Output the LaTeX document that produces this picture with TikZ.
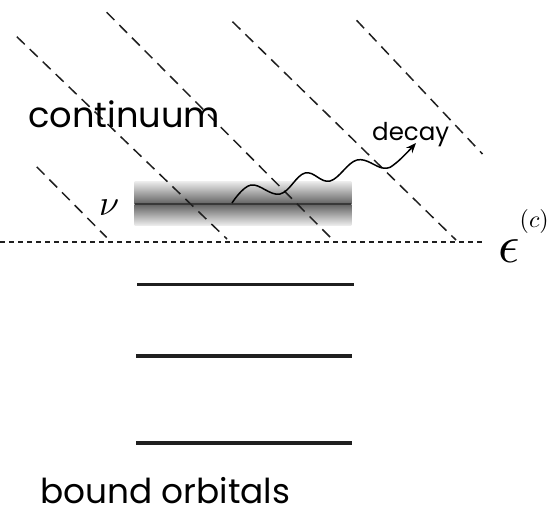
\documentclass[tikz,border=0pt]{standalone}
\usepackage{fontspec}
\setmainfont{Poppins}
\usetikzlibrary{arrows.meta}
\tikzset{
  contline/.style={dash pattern=on 11pt off 7pt, line width=1.5pt, black!88},
  threshold/.style={dash pattern=on 5pt off 4pt, line width=1.4pt, black!88},
  level/.style={line width=3.6pt, black!88},
  lbl/.style={inner sep=0pt, anchor=base west},
  wave/.style={line width=1.5pt, -{Stealth[length=10pt,width=8pt]}}
}
\begin{document}
\begin{tikzpicture}[x=1pt,y=-1pt]
\useasboundingbox (0,0) rectangle (549,515);
% resonance band
\shade[top color=black!8, bottom color=black!62] (134.6,181.5) rectangle (351.4,204);
\shade[top color=black!62, bottom color=black!8] (351.4,204) rectangle (134.6,225);
\draw[line width=2.5pt, black!78] (134.6,204) -- (351.4,204);
% continuum lines
\coordinate (a1) at (16.8,36.7);  \coordinate (b1) at (227,239);
\coordinate (a2) at (106.6,12.2); \coordinate (b2) at (332,239);
\coordinate (a3) at (232.5,21.7); \coordinate (b3) at (456,240);
\coordinate (a4) at (356.6,20.3); \coordinate (b4) at (482.5,154);
\coordinate (a5) at (36.7,166.8); \coordinate (b5) at (106.6,237.4);
\foreach \i in {1,...,5} \draw[contline] (a\i) -- (b\i);
% threshold
\coordinate (t0) at (0,242);
\coordinate (t1) at (484,242);
\draw[threshold] (t0) -- (t1);
% bound levels
\coordinate (l1a) at (137,284.5); \coordinate (l1b) at (354,284.5);
\coordinate (l2a) at (136,356);   \coordinate (l2b) at (352,356);
\coordinate (l3a) at (136,443);   \coordinate (l3b) at (352,443);
\draw[level] (l1a) -- (l1b);
\draw[level] (l2a) -- (l2b);
\draw[level] (l3a) -- (l3b);
% decay wave
\draw[wave] plot[smooth, tension=0.65] coordinates {(232,203) (251,185) (280,194) (305,173) (330,181) (357,160) (383,168) (396,163) (416,143)};
% labels
\node[lbl] (cont) at (28,127.6) {\resizebox{192pt}{!}{continuum}};
\node[lbl] (bound) at (40,503.5) {\resizebox{250pt}{!}{bound orbitals}};
\node[lbl] (decay) at (372,140) {\resizebox{77pt}{!}{decay}};
\node[lbl] (nu) at (99,215) {\scalebox{3.6}{$\nu$}};
\node[lbl] (eps) at (498,262) {\scalebox{5.3}{$\epsilon$}\raisebox{35pt}{\scalebox{2.4}{$(c)$}}};
\end{tikzpicture}
\end{document}
